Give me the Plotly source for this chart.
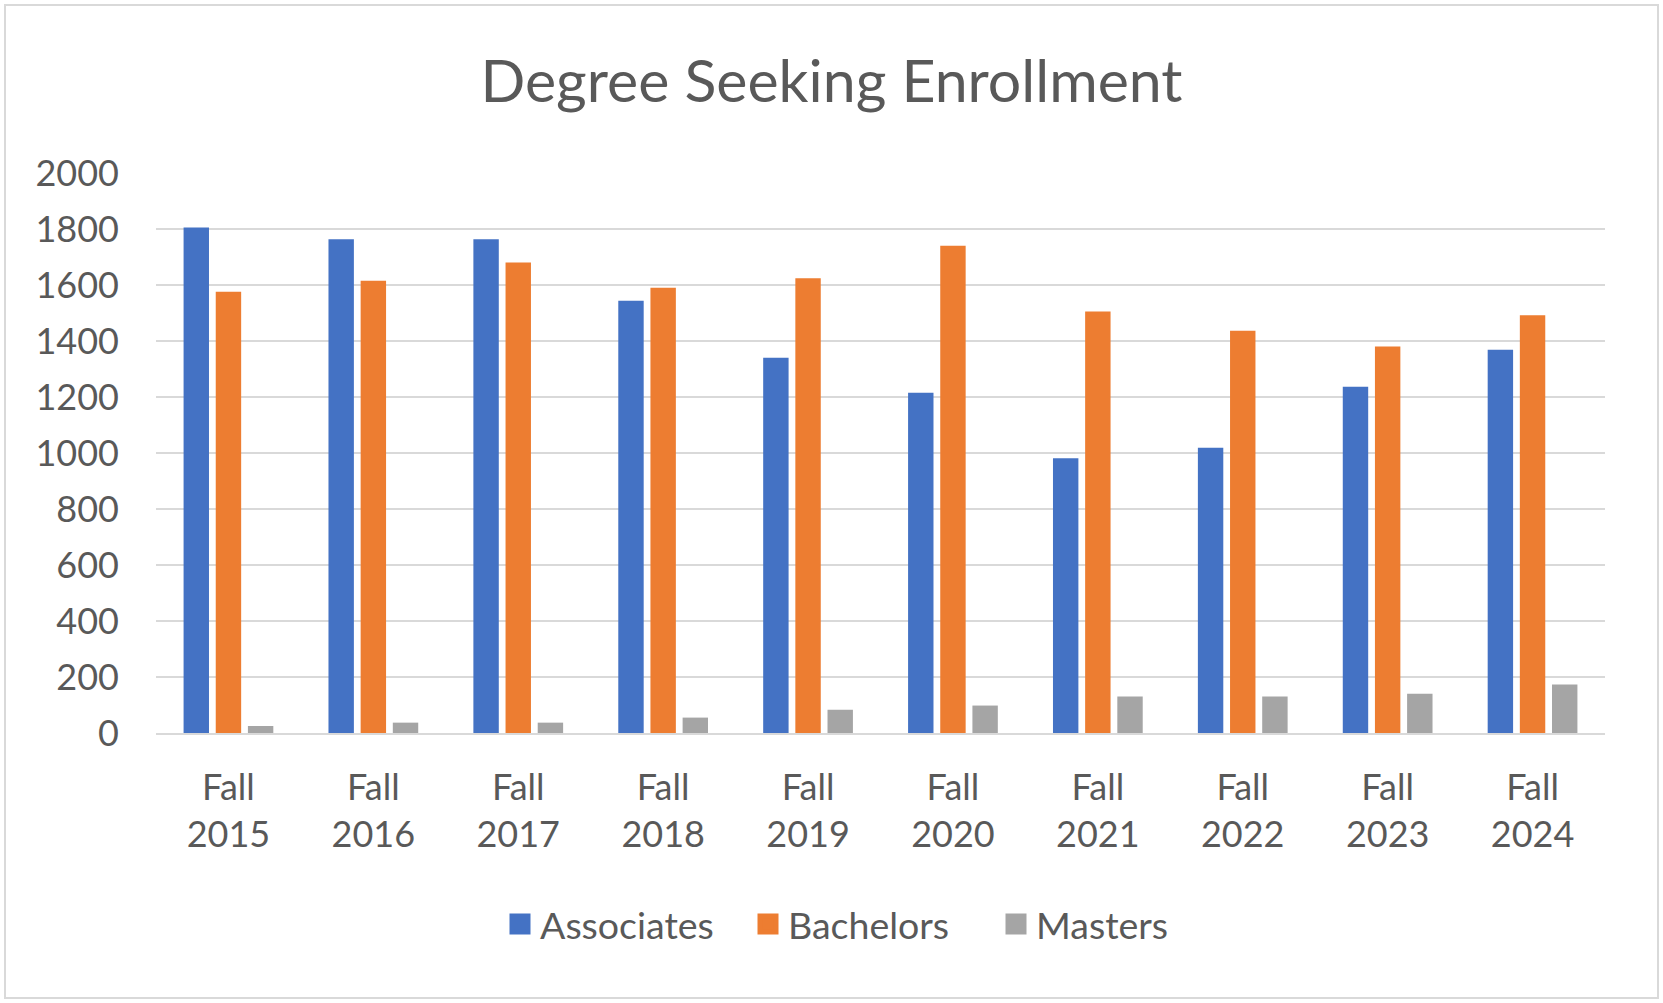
import plotly.graph_objects as go

categories = ["Fall<br>2015", "Fall<br>2016", "Fall<br>2017", "Fall<br>2018", "Fall<br>2019",
              "Fall<br>2020", "Fall<br>2021", "Fall<br>2022", "Fall<br>2023", "Fall<br>2024"]
associates = [1805, 1763, 1763, 1544, 1340, 1215, 981, 1019, 1237, 1369]
bachelors = [1576, 1615, 1680, 1590, 1624, 1740, 1505, 1437, 1380, 1492]
masters = [25, 37, 37, 55, 83, 98, 130, 130, 140, 173]
y_ticks = [0, 200, 400, 600, 800, 1000, 1200, 1400, 1600, 1800, 2000]

series = [("Associates", associates, "#4472C4"),
          ("Bachelors", bachelors, "#ED7D31"),
          ("Masters", masters, "#A5A5A5")]

W, H = 1663, 1003
L, R, T, B = 156, 1605, 173, 733
FONT = "Lato"
TXT = "#595959"

fig = go.Figure()
for name, vals, col in series:
    fig.add_trace(go.Bar(x=categories, y=vals, name=name, marker_color=col,
                         marker_line_width=0, showlegend=False))
for name, vals, col in series:
    fig.add_trace(go.Scatter(x=[None], y=[None], mode="markers", name=name,
                             marker=dict(symbol="square", size=16, color=col,
                                         line=dict(color=col, width=5))))

def px_x(p):
    return (p - L) / (R - L)

def px_y(p):
    return (B - p) / (B - T)

fig.add_shape(type="rect", xref="paper", yref="paper",
              x0=px_x(5), x1=px_x(1658), y0=px_y(998), y1=px_y(5),
              line=dict(color="#D9D9D9", width=2), fillcolor="rgba(0,0,0,0)", layer="below")

fig.update_layout(
    width=W, height=H,
    margin=dict(l=L, r=W - R, t=T, b=H - B, pad=0),
    paper_bgcolor="white", plot_bgcolor="white",
    barmode="group", bargap=0.334, bargroupgap=0.21,
    title=dict(text="Degree Seeking Enrollment", x=0.5, xanchor="center",
               y=1 - 81 / H, yanchor="middle",
               font=dict(family=FONT, size=59, color=TXT)),
    font=dict(family=FONT, color=TXT),
    legend=dict(orientation="h", x=px_x(500), xanchor="left", y=px_y(924), yanchor="middle",
                font=dict(family=FONT, size=37.5, color=TXT), itemsizing="trace",
                entrywidth=203, entrywidthmode="pixels",
                bgcolor="rgba(0,0,0,0)"),
    xaxis=dict(showgrid=False, showline=True, linecolor="#D9D9D9", linewidth=2,
               ticks="", tickfont=dict(family=FONT, size=36, color=TXT),
               ticklabelstandoff=22),
    yaxis=dict(range=[0, 2000], tickvals=y_ticks, showgrid=True, gridcolor="#D9D9D9",
               gridwidth=2, zeroline=False, showline=False, ticks="",
               tickfont=dict(family=FONT, size=36, color=TXT), ticklabelstandoff=36),
)

fig.write_html("out.html", config={"displayModeBar": False},
               post_script="document.body.style.margin='0';")
